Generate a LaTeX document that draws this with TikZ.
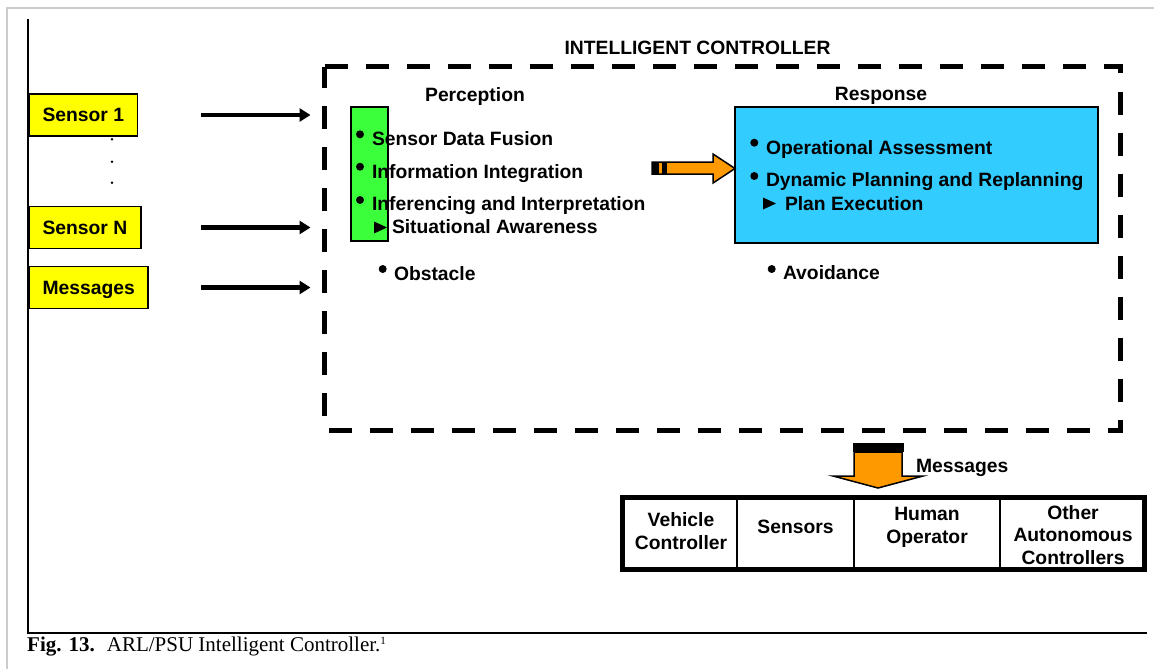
\documentclass[tikz,border=0pt]{standalone}
\usepackage{fontspec}
\setmainfont{Liberation Sans}
\newfontfamily\serifcap{Liberation Serif}
\usetikzlibrary{arrows.meta}
\definecolor{boxyellow}{RGB}{255,255,0}
\definecolor{percgreen}{RGB}{60,255,60}
\definecolor{respblue}{RGB}{51,204,255}
\definecolor{flowor}{RGB}{255,153,0}
\definecolor{framegray}{RGB}{204,204,204}

\begin{document}
\begin{tikzpicture}[x=1pt,y=-1pt,
  lbl/.style={font=\fontsize{19.3}{22.5}\selectfont\bfseries, inner sep=0pt, outer sep=0pt},
  txt/.style={lbl, anchor=base west},
  inbox/.style={lbl, draw, line width=1.8pt, fill=boxyellow, anchor=west,
    inner xsep=13.5pt, minimum height=42pt, text height=13.8pt, text depth=0pt},
  feed/.style={line width=4.5pt, -{Triangle[length=11pt,width=13pt]}},
  bul/.style={fill=black, circle, inner sep=0pt, minimum size=8pt},
  dot/.style={fill=black, circle, inner sep=0pt, minimum size=2.8pt},
  pointer/.style={fill=black},
  panel/.style={draw, line width=1.8pt, anchor=north west, inner sep=0pt, outer sep=0pt},
  dashframe/.style={line width=5pt, dash pattern=on 23pt off 18pt, line join=miter},
  blockarrow/.style={fill=flowor, draw=black, line width=1.5pt, line join=miter},
  cell/.style={draw, line width=2pt, anchor=north west, inner sep=0pt, outer sep=0pt, minimum height=72pt},
  celltext/.style={lbl, align=center, anchor=base}
]
\useasboundingbox (0,0) rectangle (1154,669);

% page frame
\draw[framegray, line width=2pt] (1154,8.3) -- (7,8.3) -- (7,669);
\draw[line width=2pt] (28,19) -- (28,633) -- (1147,633);

% inputs
\node[inbox] (s1) at (29,115) {Sensor 1};
\node[inbox] (sn) at (29,227.5) {Sensor N};
\node[inbox] (msg) at (29,287.5) {Messages};
\node[dot] (d1) at (112,139.3) {};
\node[dot] (d2) at (112,161.7) {};
\node[dot] (d3) at (112,182.7) {};

% intelligent controller frame
\node[inner sep=0pt, outer sep=0pt, minimum width=795.5pt, minimum height=363pt, anchor=north west] (ic) at (324.5,67) {};
\draw[dashframe] (ic.north west) -- (ic.north east) -- (ic.south east) -- (ic.south west) -- cycle;
\node[lbl, anchor=base] (title) at (697.5,55) {INTELLIGENT CONTROLLER};

% feed arrows into the controller
\coordinate (feedx) at (201,0);
\draw[feed] (s1.east -| feedx) -- ([xshift=-14pt]s1.east -| ic.west);
\draw[feed] (sn.east -| feedx) -- ([xshift=-14pt]sn.east -| ic.west);
\draw[feed] (msg.east -| feedx) -- ([xshift=-14pt]msg.east -| ic.west);

% perception
\node[lbl, anchor=base] (perchead) at (475,102) {Perception};
\node[panel, fill=percgreen, minimum width=37pt, minimum height=134pt] (perc) at (351,107) {};
\node[bul] (pb1) at (360,134.3) {};
\node[bul] (pb2) at (360,166.7) {};
\node[bul] (pb3) at (360,200) {};
\node[txt] (p1) at (372,145) {Sensor Data Fusion};
\node[txt] (p2) at (372,178) {Information Integration};
\node[txt] (p3) at (372,210) {Inferencing and Interpretation};
\fill[pointer] (374,221.5) -- (387,227.5) -- (374,233.5) -- cycle;
\node[txt] (p4) at (392,233) {Situational Awareness};
\node[bul] (ob) at (382.7,269) {};
\node[txt] (obs) at (394,280) {Obstacle};

% response
\node[lbl, anchor=base] (resphead) at (881,100) {Response};
\node[panel, fill=respblue, minimum width=363pt, minimum height=136pt] (resp) at (735,107) {};
\node[bul] (rb1) at (754.3,142.7) {};
\node[bul] (rb2) at (754.3,176) {};
\node[txt] (r1) at (766,154) {Operational Assessment};
\node[txt] (r2) at (766,186.7) {Dynamic Planning and Replanning};
\fill[pointer] (763,197.5) -- (776,203.5) -- (763,209.5) -- cycle;
\node[txt] (r3) at (785,210) {Plan Execution};
\node[bul] (ab) at (771.7,269) {};
\node[txt] (avo) at (783,279.3) {Avoidance};

% perception -> response block arrow
\draw[blockarrow] (652,162) -- (713,162) -- (713,154) -- (resp.west |- 0,168.5) -- (713,183) -- (713,174) -- (652,174) -- cycle;
\fill (652,162) rectangle (659,174);
\fill (662,162) rectangle (667,174);

% outgoing messages arrow
\draw[blockarrow] (854,452) -- (854,476) -- (833,476) -- (878,488) -- (923,476) -- (902,476) -- (902,452) -- cycle;
\fill (852.5,443) rectangle (903.5,452);
\node[txt] (outmsg) at (916,472) {Messages};

% destinations
\node[cell, minimum width=114.5pt] (c1) at (622.5,497) {};
\node[cell, minimum width=117pt] (c2) at (737,497) {};
\node[cell, minimum width=146pt] (c3) at (854,497) {};
\node[cell, minimum width=144pt] (c4) at (1000,497) {};
\draw[line width=5pt, line join=miter] (c1.north west) rectangle (c4.south east);
\node[celltext] (t1) at (681,549) {Vehicle\\Controller};
\node[celltext] (t2) at (795.5,533) {Sensors};
\node[celltext] (t3) at (927,543) {Human\\Operator};
\node[celltext] (t4) at (1073,564) {Other\\Autonomous\\Controllers};

% caption
\node[anchor=base west, inner sep=0pt, font=\serifcap\fontsize{21}{24}\selectfont] (caption) at (27,651)
  {\textbf{Fig. 13.}\hspace{12pt}ARL/PSU Intelligent Controller.\raisebox{7pt}{\fontsize{11}{11}\selectfont 1}};
\end{tikzpicture}
\end{document}
